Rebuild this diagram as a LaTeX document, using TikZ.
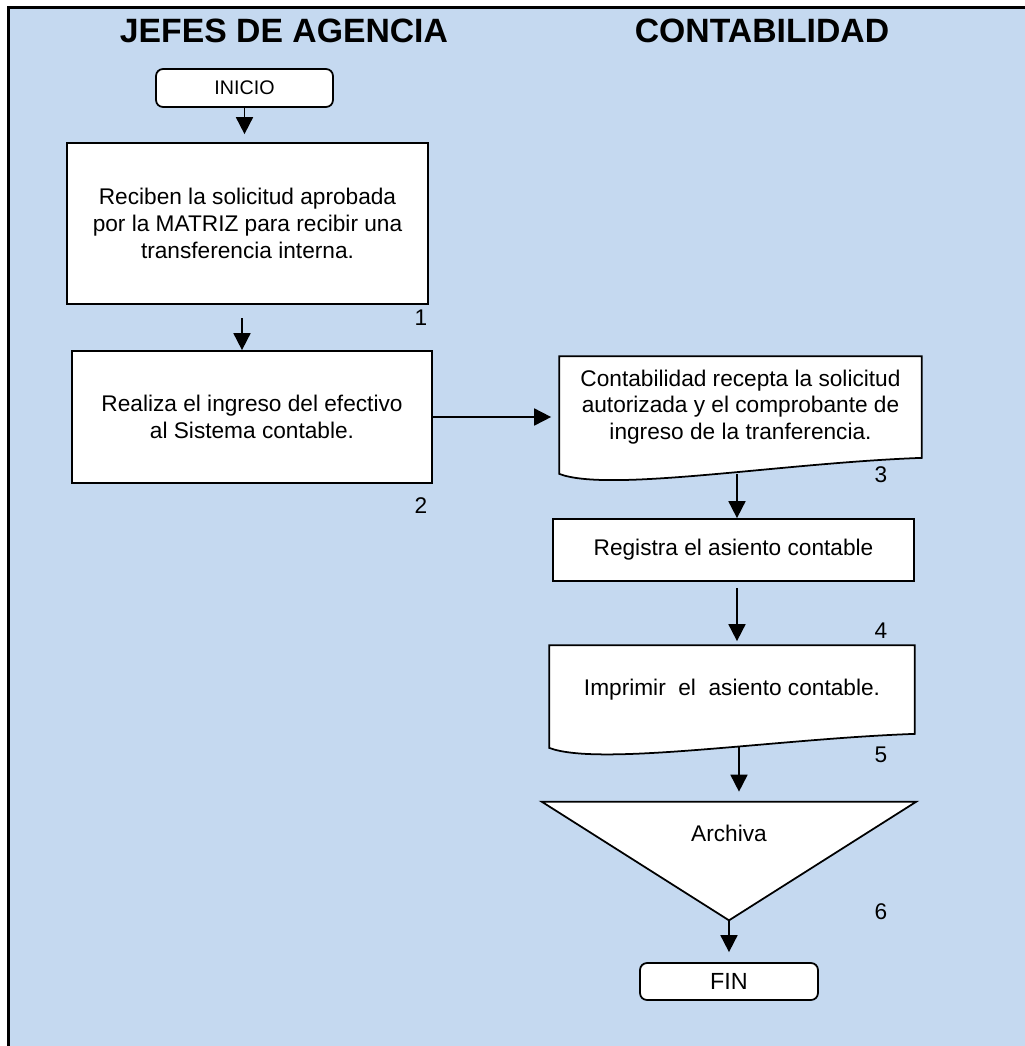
\documentclass[tikz,border=0pt]{standalone}
\usepackage{fontspec}
\setmainfont{Liberation Sans}
\usetikzlibrary{calc}
\usetikzlibrary{arrows.meta}
\definecolor{fondo}{RGB}{197,217,240}

\begin{document}
\begin{tikzpicture}[x=0.02cm,y=-0.02cm]
\tikzset{>={Triangle[length=0.34cm,width=0.34cm]}}
\tikzset{caja/.style={draw,fill=white,line width=1pt,align=center,inner sep=0pt,font=\fontsize{12.9}{15.2}\selectfont}}
\tikzset{term/.style={draw,fill=white,line width=1pt,rounded corners=4pt,inner sep=0pt}}
\tikzset{titulo/.style={font=\bfseries\fontsize{19.2}{22}\selectfont}}
\tikzset{num/.style={font=\fontsize{12.9}{15}\selectfont}}
\tikzset{flecha/.style={->,line width=1pt}}

\useasboundingbox (0,0) rectangle (1025,1046);
% fondo y marco
\fill[fondo] (8.5,7.5) rectangle (1025,1046);
\draw[line width=1.7pt] (8.5,1046) -- (8.5,7.5) -- (1025,7.5);

% titulos
\node (tjefes) at (284,30.5) [titulo] {JEFES DE AGENCIA};
\node (tconta) at (762,30.5) [titulo] {CONTABILIDAD};

% jefes de agencia
\node (ini) at (244.5,88) [term,minimum width=3.54cm,minimum height=0.76cm,font=\fontsize{11.2}{12}\selectfont] {INICIO};
\node (b1) at (247.5,223.5) [caja,minimum width=7.22cm,minimum height=3.22cm] {Reciben la solicitud aprobada\\por la MATRIZ para recibir una\\transferencia interna.};
\node (b2) at (252,417) [caja,minimum width=7.2cm,minimum height=2.64cm] {Realiza el ingreso del efectivo\\al Sistema contable.};

% contabilidad
\node (d3) at (740.5,407) [caja,draw=none,minimum width=7.22cm,minimum height=2cm] {Contabilidad recepta la solicitud\\autorizada y el comprobante de\\ingreso de la tranferencia.};
\fill[white] ($(d3.south east)+(0,-3)$) -- (d3.south east) .. controls +(-141,5) and +(50,19) .. ($(d3.south west)+(0,16)$) -- ($(d3.south west)+(0,-3)$) -- cycle;
\draw[line width=1pt] (d3.north west) -- (d3.north east) -- (d3.south east) .. controls +(-141,5) and +(50,19) .. ($(d3.south west)+(0,16)$) -- cycle;

\node (b4) at (733.5,550) [caja,minimum width=7.22cm,minimum height=1.24cm] {Registra el asiento contable};

\node (d5) at (732,689.5) [caja,draw=none,minimum width=7.28cm,minimum height=1.74cm] {Imprimir~ el~ asiento contable.};
\fill[white] ($(d5.south east)+(0,-3)$) -- (d5.south east) .. controls +(-141,5) and +(50,19) .. ($(d5.south west)+(0,14)$) -- ($(d5.south west)+(0,-3)$) -- cycle;
\draw[line width=1pt] (d5.north west) -- (d5.north east) -- (d5.south east) .. controls +(-141,5) and +(50,19) .. ($(d5.south west)+(0,14)$) -- cycle;

\node (arch) at (729,861) [minimum width=7.48cm,minimum height=2.36cm] {};
\draw[line width=1pt,fill=white] (arch.north west) -- (arch.north east) -- (arch.south) -- cycle;
\node (archt) at (729,833) [num] {Archiva};

\node (fin) at (729,981.5) [term,minimum width=3.56cm,minimum height=0.74cm,font=\fontsize{13.3}{15}\selectfont] {FIN};

% numeros
\node (n1) at (421,318) [num] {1};
\node (n2) at (421,506) [num] {2};
\node (n3) at (881,475) [num] {3};
\node (n4) at (881,631) [num] {4};
\node (n5) at (881,755) [num] {5};
\node (n6) at (881,912) [num] {6};

% flechas
\coordinate (c1) at (242,318);
\coordinate (c3) at (737,474);
\coordinate (c4) at (737,588);
\coordinate (c5) at (739,747);
\draw[flecha,shorten >=0.16cm] (ini.south) -- (ini.south |- b1.north);
\draw[flecha] (c1) -- (c1 |- b2.north);
\draw[flecha,shorten >=0.16cm] (b2.east) -- (b2.east -| d3.west);
\draw[flecha] (c3) -- (c3 |- b4.north);
\draw[flecha,shorten >=0.08cm] (c4) -- (c4 |- d5.north);
\draw[flecha,shorten >=0.2cm] (c5) -- (c5 |- arch.north);
\draw[flecha,shorten >=0.2cm] (arch.south) -- (fin.north);

\end{tikzpicture}
\end{document}
